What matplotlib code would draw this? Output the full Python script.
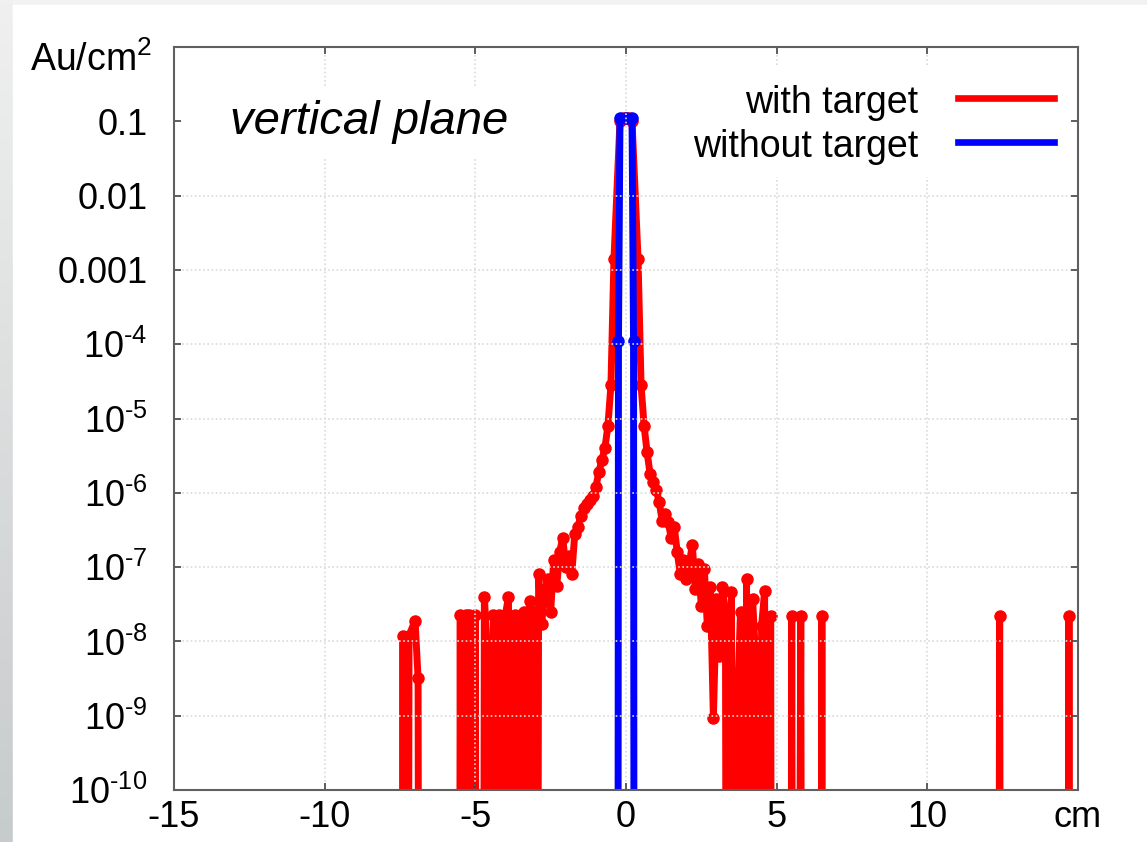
import numpy as np
import matplotlib
matplotlib.use('Agg')
import matplotlib.pyplot as plt
from matplotlib.lines import Line2D
from matplotlib.patches import Rectangle
from matplotlib.colors import LinearSegmentedColormap

plt.rcParams['font.family'] = ['Liberation Sans', 'DejaVu Sans']
plt.rcParams['mathtext.fontset'] = 'custom'
plt.rcParams['mathtext.rm'] = 'Liberation Sans'
plt.rcParams['mathtext.it'] = 'Liberation Sans:italic'
plt.rcParams['mathtext.default'] = 'regular'

# --- data (Au/cm^2 per bin, empty bins = 0) ---
x_with = [
    -15.0, -7.5, -7.4, -7.3, -7.2, -7.0, -6.9, -6.8,
    -5.6, -5.5, -5.4, -5.3, -5.2, -5.1, -5.0, -4.9,
    -4.8, -4.7, -4.6, -4.5, -4.4, -4.3, -4.2, -4.1, -4.0, -3.9, -3.8, -3.7, -3.6,
    -3.5, -3.4, -3.3, -3.2, -3.1, -3.0, -2.9, -2.8, -2.7, -2.6, -2.5, -2.4,
    -2.3, -2.2, -2.1, -2.0, -1.9, -1.8, -1.7, -1.6, -1.5, -1.4, -1.3, -1.2,
    -1.1, -1.0, -0.9, -0.8, -0.7, -0.6, -0.5, -0.4, -0.2, -0.1,
    0.0, 0.1, 0.2, 0.4, 0.5, 0.6, 0.7, 0.8, 0.9, 1.0, 1.1, 1.2,
    1.3, 1.4, 1.5, 1.6, 1.7, 1.8, 1.9, 2.0, 2.1, 2.2, 2.3, 2.4,
    2.5, 2.6, 2.7, 2.8, 2.9, 3.0, 3.1, 3.2, 3.3, 3.4, 3.5, 3.6,
    3.7, 3.8, 3.9, 4.0, 4.1, 4.2, 4.3, 4.4, 4.5, 4.6, 4.7, 4.8, 4.9,
    5.4, 5.5, 5.6, 5.8, 5.9, 6.4, 6.5, 6.6,
    12.3, 12.4, 12.5, 14.6, 14.7, 14.8, 15.0,
]
y_with = [
    0, 0, 1.2e-8, 0, 1.2e-8, 1.9e-8, 3.2e-9, 0,
    0, 2.3e-8, 0, 2.3e-8, 2.3e-8, 0, 2.3e-8, 0,
    0, 4.0e-8, 6.8e-9, 0, 2.3e-8, 0, 2.3e-8, 0, 2.3e-8, 4.0e-8, 0, 2.3e-8, 0,
    2.3e-8, 2.5e-8, 0, 3.5e-8, 2.5e-8, 0, 8e-8, 1.7e-8, 4.6e-8, 6.9e-8, 2.5e-8, 1.26e-7,
    5.5e-8, 1.6e-7, 2.5e-7, 1.0e-7, 1.4e-7, 8e-8, 2.8e-7, 3.5e-7, 4.8e-7, 6.3e-7, 7e-7, 8e-7,
    9e-7, 1.2e-6, 1.9e-6, 2.8e-6, 4e-6, 8e-6, 2.8e-5, 1.4e-3, 0.1, 0.11,
    0.11, 0.11, 0.1, 1.4e-3, 2.8e-5, 8e-6, 3.5e-6, 1.8e-6, 1.4e-6, 1.1e-6, 7.6e-7, 4.2e-7,
    5.2e-7, 4e-7, 2.5e-7, 3.5e-7, 1.6e-7, 8e-8, 1.26e-7, 6.9e-8, 1.1e-7, 2e-7, 5e-8, 1.1e-7,
    3e-8, 9.3e-8, 1.6e-8, 5.4e-8, 9.3e-10, 3.7e-8, 6.3e-9, 5.4e-8, 2.5e-8, 0, 4.6e-8, 0,
    1.6e-9, 2.5e-8, 0, 6.9e-8, 0, 3.7e-8, 6.3e-9, 0, 1.6e-8, 4.8e-8, 0, 2.2e-8, 0,
    0, 2.2e-8, 0, 2.2e-8, 0, 0, 2.2e-8, 0,
    0, 2.2e-8, 0, 0, 2.2e-8, 0, 0,
]

x_without = [-15.0, -0.3, -0.25, -0.2, 0.0, 0.2, 0.25, 0.3, 15.0]
y_without = [0, 0, 1.1e-4, 0.11, 0.11, 0.11, 1.1e-4, 0, 0]

x_ticks = [-15, -10, -5, 0, 5, 10, 15]
x_labels = ['-15', '-10', '-5', '0', '5', '10', 'cm']
y_ticks = [1e-10, 1e-9, 1e-8, 1e-7, 1e-6, 1e-5, 1e-4, 1e-3, 1e-2, 1e-1]
y_labels = [r'$10^{\text{-}10}$', r'$10^{\text{-}9}$', r'$10^{\text{-}8}$',
            r'$10^{\text{-}7}$', r'$10^{\text{-}6}$', r'$10^{\text{-}5}$',
            r'$10^{\text{-}4}$', '0.001', '0.01', '0.1']

YMIN, YMAX = 1e-10, 1.0
TINY = 1e-30  # empty bins: drawn far below the axis so the edges drop straight down

fig = plt.figure(figsize=(11.47, 8.42), dpi=100)
fig.patch.set_facecolor('#f2f2f2')

# slide-like background: grey strip on the left, white page
bg = fig.add_axes([0, 0, 1, 1], zorder=-10)
grad = np.linspace(0, 1, 256).reshape(-1, 1)
cmap = LinearSegmentedColormap.from_list('bg', ['#f0f0f0', '#c6cbcb'])
bg.imshow(grad, extent=(0, 13, 842, 0), cmap=cmap, aspect='auto')
bg.add_patch(Rectangle((13, 5), 1147 - 13, 842 - 5, color='white'))
bg.set_xlim(0, 1147)
bg.set_ylim(842, 0)
bg.axis('off')

ax = fig.add_axes([174 / 1147, 1 - 790 / 842, 904 / 1147, 743 / 842])
ax.set_facecolor('white')

yw = np.array(y_with, dtype=float)
yo = np.array(y_without, dtype=float)
ax.plot(x_with, np.where(yw > 0, yw, TINY), color='#ff0000', lw=5,
        marker='o', ms=8, mec='#ff0000', zorder=2)
ax.plot(x_without, np.where(yo > 0, yo, TINY), color='#0000ff', lw=5,
        marker='o', ms=8, mec='#0000ff', zorder=2.1)

ax.set_yscale('log')
ax.set_xlim(-15, 15)
ax.set_ylim(YMIN, YMAX)
ax.set_xticks(x_ticks)
ax.set_xticklabels(x_labels)
ax.set_yticks(y_ticks)
ax.set_yticklabels(y_labels)
ax.yaxis.set_minor_locator(matplotlib.ticker.NullLocator())

ax.tick_params(which='major', direction='in', length=5, width=1.2, color='#444444',
               top=True, right=True, labelsize=26)
ax.tick_params(axis='x', pad=7)
ax.tick_params(axis='y', pad=19)
for s in ax.spines.values():
    s.set_color('#606060')
    s.set_linewidth(1.5)
    s.set_zorder(3.5)

# gnuplot style: dotted grid drawn over the curves
ax.set_axisbelow(False)
ax.grid(True, color='#dadada', linestyle=(0, (1, 1.5)), linewidth=1.2)
ax.yaxis.get_major_ticks()[-1].gridline.set_visible(False)

# key box
ax.add_patch(Rectangle((0.56, 0.825), 0.43, 0.151, transform=ax.transAxes,
                       facecolor='white', edgecolor='none', zorder=3))
ax.text(0.823, 0.924, 'with target', transform=ax.transAxes, ha='right',
        va='center', fontsize=27, zorder=4)
ax.text(0.823, 0.865, 'without target', transform=ax.transAxes, ha='right',
        va='center', fontsize=27, zorder=4)
ax.add_line(Line2D([0.867, 0.973], [0.931, 0.931], transform=ax.transAxes,
                   color='#ff0000', lw=4.8, zorder=4))
ax.add_line(Line2D([0.867, 0.973], [0.872, 0.872], transform=ax.transAxes,
                   color='#0000ff', lw=4.8, zorder=4))

ax.text(0.062, 0.899, 'vertical plane', transform=ax.transAxes, ha='left',
        va='center', fontsize=34, style='italic', zorder=4,
        bbox=dict(facecolor='white', edgecolor='none', pad=10))

fig.text(152 / 1147, 1 - 60 / 842, r'Au/cm$^2$', ha='right', va='center', fontsize=27)

fig.savefig('out.png', dpi=100, facecolor=fig.get_facecolor())
